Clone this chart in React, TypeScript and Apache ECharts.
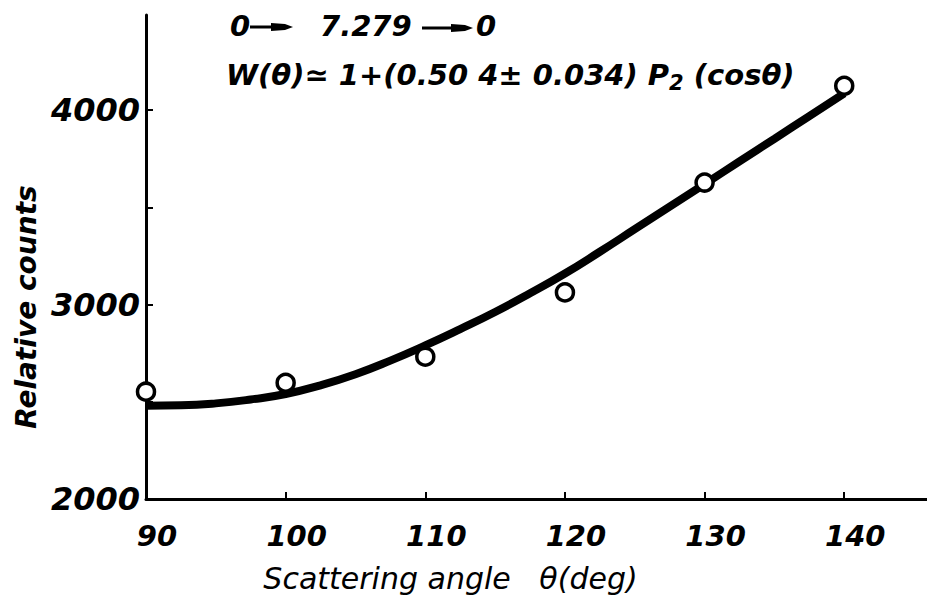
import React, { useEffect, useRef } from "react";
import * as echarts from "echarts";

const pointAngles = [90, 100, 110, 120, 130, 140];
const pointCounts = [2552, 2598, 2732, 3063, 3628, 4126];

const curveAngles = [
  90, 92.5, 95, 97.5, 100, 102.5, 105, 107.5, 110, 112.5, 115,
  117.5, 120, 122.5, 125, 127.5, 130, 132.5, 135, 137.5, 140,
];
const curveCounts = [
  2480, 2482, 2492, 2512, 2540, 2585, 2642, 2712, 2790, 2874, 2962,
  3058, 3160, 3272, 3388, 3504, 3620, 3737, 3853, 3970, 4087,
];

const yLabelValues = [2000, 3000, 4000];

const FONT = "DejaVu Sans";

function arrow(x1: number, x2: number, y: number) {
  return {
    type: "group",
    children: [
      {
        type: "line",
        shape: { x1, y1: y, x2: x2 - 14, y2: y },
        style: { stroke: "#000", lineWidth: 3 },
      },
      {
        type: "polygon",
        shape: {
          points: [
            [x2 - 22, y - 4],
            [x2 - 8, y - 3],
            [x2, y],
            [x2 - 8, y + 3],
            [x2 - 22, y + 4],
          ],
        },
        style: { fill: "#000" },
      },
    ],
  };
}

export default function App() {
  const ref = useRef<HTMLDivElement>(null);
  useEffect(() => {
    if (!ref.current) return;
    const chart = echarts.init(ref.current, undefined, { renderer: "svg" });
    const titleFont = {
      fontFamily: FONT,
      fontStyle: "italic",
      fontWeight: "bold",
      fontSize: 29,
      fill: "#000",
    };
    chart.setOption({
      animation: false,
      backgroundColor: "#ffffff",
      grid: { left: 146, right: 0, top: 15, bottom: 106 },
      xAxis: {
        type: "value",
        min: 90,
        max: 146.5,
        interval: 10,
        name: "Scattering angle   θ(deg)",
        nameLocation: "middle",
        nameGap: 64,
        nameTextStyle: {
          fontFamily: FONT,
          fontStyle: "italic",
          fontSize: 30,
          color: "#000",
          padding: [0, 180, 0, 0],
        },
        axisLine: { lineStyle: { color: "#000", width: 3 } },
        axisTick: { show: true, inside: true, length: 7, lineStyle: { color: "#000", width: 2 } },
        splitLine: { show: false },
        axisLabel: {
          showMaxLabel: false,
          margin: 22,
          padding: [0, 0, 0, 22],
          fontFamily: FONT,
          fontStyle: "italic",
          fontWeight: "bold",
          fontSize: 29,
          color: "#000",
        },
      },
      yAxis: {
        type: "value",
        min: 2000,
        max: 4490,
        interval: 500,
        name: "Relative counts",
        nameLocation: "middle",
        nameGap: 102,
        nameRotate: 90,
        nameTextStyle: {
          fontFamily: FONT,
          fontStyle: "italic",
          fontWeight: "bold",
          fontSize: 28,
          color: "#000",
          padding: [0, 100, 0, 0],
        },
        axisLine: { show: true, lineStyle: { color: "#000", width: 3 } },
        axisTick: { show: true, inside: true, length: 7, lineStyle: { color: "#000", width: 2 } },
        splitLine: { show: false },
        axisLabel: {
          showMaxLabel: false,
          margin: 6,
          fontFamily: FONT,
          fontStyle: "italic",
          fontWeight: "bold",
          fontSize: 32,
          color: "#000",
          formatter: (v: number) => (yLabelValues.includes(v) ? String(v) : ""),
        },
      },
      series: [
        {
          type: "line",
          data: curveAngles.map((a, i) => [a, curveCounts[i]]),
          smooth: 0.5,
          showSymbol: false,
          lineStyle: { color: "#000", width: 8 },
          z: 2,
        },
        {
          type: "scatter",
          data: pointAngles.map((a, i) => [a, pointCounts[i]]),
          symbol: "circle",
          symbolSize: 17,
          clip: false,
          itemStyle: { color: "#fff", borderColor: "#000", borderWidth: 3.5, opacity: 1 },
          z: 3,
        },
      ],
      graphic: [
        { type: "text", left: 230, top: 11, style: { text: "0", ...titleFont } },
        arrow(250, 293, 27),
        { type: "text", left: 320, top: 11, style: { text: "7.279", ...titleFont } },
        arrow(422, 473, 28),
        { type: "text", left: 476, top: 11, style: { text: "0", ...titleFont } },
        {
          type: "text",
          left: 226,
          top: 60,
          style: {
            text: "{m|W(θ)≃ 1+(0.50 4± 0.034) P}{s|2}{m| (cosθ)}",
            rich: {
              m: {
                fontFamily: FONT,
                fontStyle: "italic",
                fontWeight: "bold",
                fontSize: 29,
                color: "#000",
              },
              s: {
                fontFamily: FONT,
                fontStyle: "italic",
                fontWeight: "bold",
                fontSize: 21,
                color: "#000",
                padding: [16, 0, 0, 0],
              },
            },
          },
        },
      ],
    });
    return () => chart.dispose();
  }, []);
  return <div ref={ref} style={{ width: 935, height: 605, margin: -8 }} />;
}
